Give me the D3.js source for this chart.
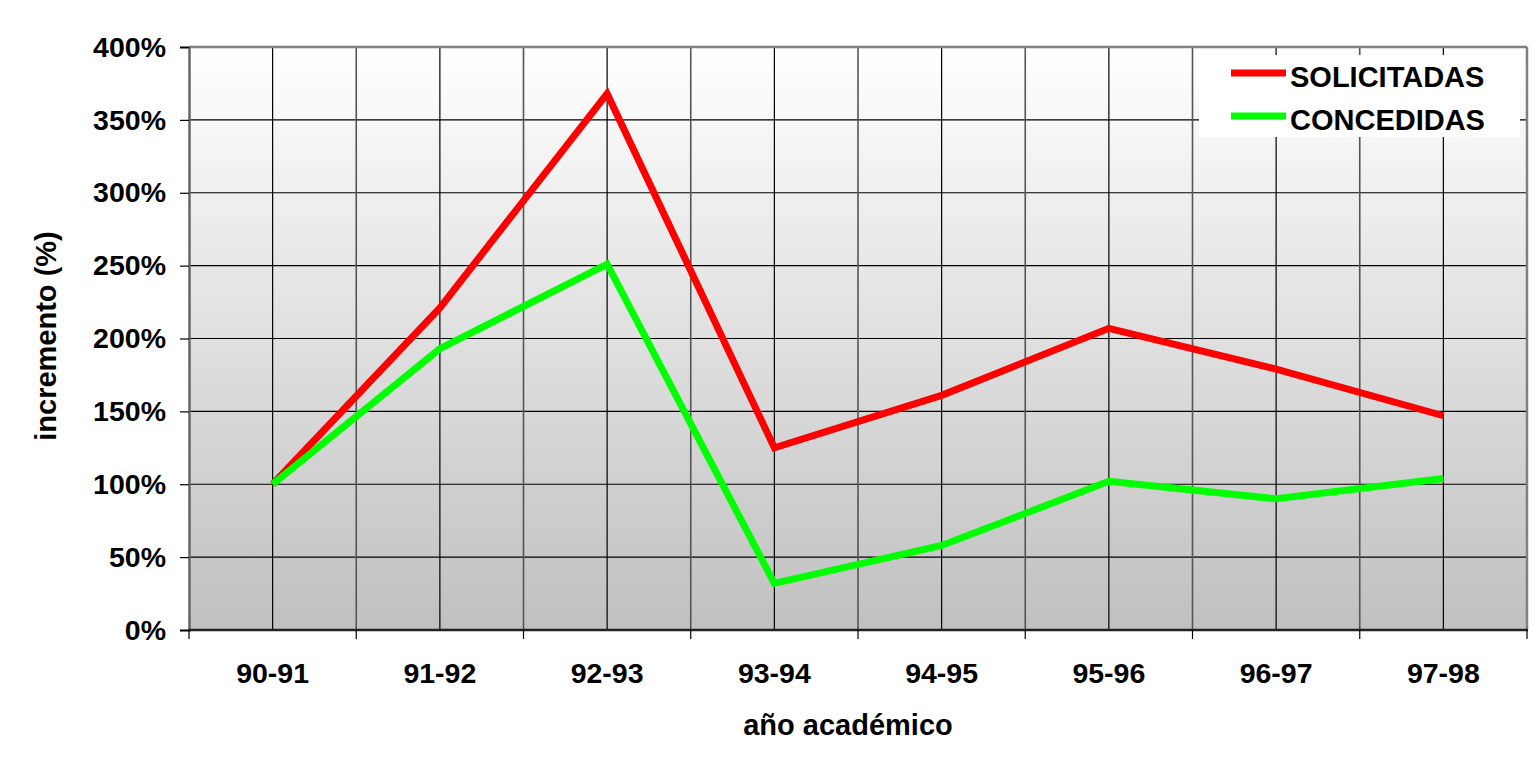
<!DOCTYPE html>
<html><head><meta charset="utf-8">
<script src="https://cdn.jsdelivr.net/npm/d3@7"></script>
<style>
html,body{margin:0;padding:0;background:#fff;}
svg{display:block;font-family:"Liberation Sans",Arial,sans-serif;font-weight:bold;}
</style></head>
<body>
<svg id="chart" width="1535" height="759"></svg>
<script>
const categories = ["90-91","91-92","92-93","93-94","94-95","95-96","96-97","97-98"];
const solicitadas = [100, 221, 368, 125, 161, 207, 179, 147];
const concedidas  = [100, 193, 251, 32, 58, 102, 90, 104];
const yTicks = [0, 50, 100, 150, 200, 250, 300, 350, 400];
const seriesNames = ["SOLICITADAS", "CONCEDIDAS"];
const seriesColors = ["#ff0000", "#00ff00"];

const svg = d3.select("#chart");
const L = 189, R = 1527, T = 47, B = 630;
const x = d3.scaleBand().domain(categories).range([L, R]).padding(0);
const bw = x.bandwidth();
const y = d3.scaleLinear().domain([0, 400]).range([B, T]);

const defs = svg.append("defs");
const grad = defs.append("linearGradient").attr("id","bg").attr("x1",0).attr("y1",0).attr("x2",0).attr("y2",1);
grad.append("stop").attr("offset","0%").attr("stop-color","#ffffff");
grad.append("stop").attr("offset","100%").attr("stop-color","#c0c0c0");

svg.append("rect").attr("x",L).attr("y",T).attr("width",R-L).attr("height",B-T).attr("fill","url(#bg)");

// horizontal gridlines
svg.append("g").selectAll("line").data(yTicks.filter(d => d>0 && d<400)).join("line")
  .attr("x1",L).attr("x2",R).attr("y1",d=>y(d)).attr("y2",d=>y(d))
  .attr("stroke","#000").attr("stroke-width",1.2);

// vertical gridlines: category centers (black) and boundaries (gray)
const centers = categories.map(c => x(c) + bw/2);
const bounds = categories.map(c => x(c)).concat([R]);
svg.append("g").selectAll("line").data(centers).join("line")
  .attr("x1",d=>d).attr("x2",d=>d).attr("y1",T).attr("y2",B)
  .attr("stroke","#000").attr("stroke-width",1.2);
svg.append("g").selectAll("line").data(bounds.slice(1,-1)).join("line")
  .attr("x1",d=>d).attr("x2",d=>d).attr("y1",T).attr("y2",B)
  .attr("stroke","#555").attr("stroke-width",1.6);

// frame
svg.append("line").attr("x1",L).attr("x2",R).attr("y1",T).attr("y2",T).attr("stroke","#808080").attr("stroke-width",2.5);
svg.append("line").attr("x1",R).attr("x2",R).attr("y1",T).attr("y2",B).attr("stroke","#808080").attr("stroke-width",2.5);

// y axis
const yAxis = d3.axisLeft(y).tickValues(yTicks).tickFormat(d => d + "%").tickSize(9).tickPadding(14);
const gy = svg.append("g").attr("transform",`translate(${L},0)`).call(yAxis);
gy.select(".domain").attr("stroke","#666").attr("stroke-width",2.5);
gy.selectAll(".tick line").attr("stroke","#000").attr("stroke-width",1.2);
gy.selectAll(".tick text").attr("font-size",28.5).attr("font-weight","bold").attr("fill","#000")
  .attr("font-family","'Liberation Sans',Arial,sans-serif");

// x axis: ticks at band boundaries, labels at centers
const gx = svg.append("g").attr("transform",`translate(0,${B})`);
gx.append("line").attr("x1",L-1).attr("x2",R+1).attr("y1",0).attr("y2",0).attr("stroke","#222").attr("stroke-width",2.5);
gx.selectAll("line.tk").data(bounds).join("line").attr("class","tk")
  .attr("x1",d=>d).attr("x2",d=>d).attr("y1",0).attr("y2",9).attr("stroke","#000").attr("stroke-width",1.2);
gx.selectAll("text").data(categories).join("text")
  .attr("x",d=>x(d)+bw/2).attr("y",53).attr("text-anchor","middle")
  .attr("font-size",28.5).attr("fill","#000").text(d=>d);

// series lines
const line = d3.line().x((d,i)=>x(categories[i])+bw/2).y(d=>y(d));
[solicitadas, concedidas].forEach((s,k)=>{
  svg.append("path").datum(s).attr("d",line).attr("fill","none")
    .attr("stroke",seriesColors[k]).attr("stroke-width",7).attr("stroke-linejoin","miter").attr("stroke-miterlimit",10);
});

// legend
const lg = svg.append("g");
lg.append("rect").attr("x",1199).attr("y",55).attr("width",321).attr("height",82).attr("fill","#fff");
seriesNames.forEach((n,k)=>{
  const yy = 73 + k*43;
  lg.append("line").attr("x1",1231).attr("x2",1286).attr("y1",yy).attr("y2",yy)
    .attr("stroke",seriesColors[k]).attr("stroke-width",7);
  lg.append("text").attr("x",1290).attr("y",yy+14).attr("font-size",29).attr("fill","#000").text(n);
});

// axis titles
svg.append("text").attr("transform",`translate(56,336) rotate(-90)`).attr("text-anchor","middle")
  .attr("font-size",29).attr("fill","#000").text("incremento (%)");
const xt = svg.append("g");
xt.append("rect").attr("x",738).attr("y",703).attr("width",231).attr("height",49).attr("fill","#fff");
xt.append("text").attr("x",848).attr("y",735).attr("text-anchor","middle").attr("font-size",29).attr("fill","#000").text("año académico");
</script>
</body></html>
